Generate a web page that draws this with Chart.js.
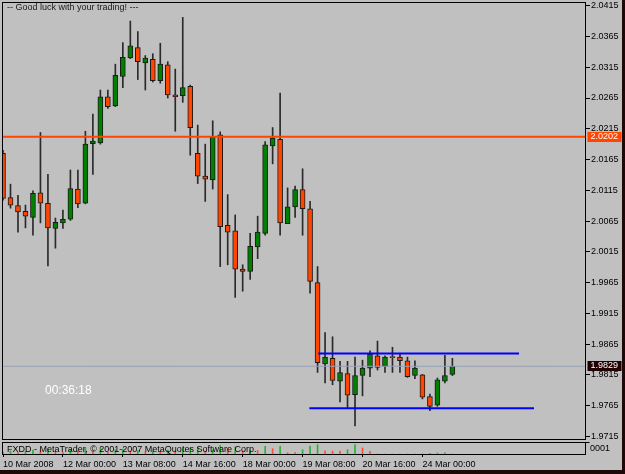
<!DOCTYPE html>
<html>
<head>
<meta charset="utf-8">
<script src="https://cdn.jsdelivr.net/npm/chart.js@4.4.1/dist/chart.umd.min.js"></script>
<style>
  html, body { margin: 0; padding: 0; background: #c0c0c0; }
  canvas { display: block; }
</style>
</head>
<body>
<canvas id="chart" width="625" height="474"></canvas>
<script>
// H4 bars, 10 Mar 2008 16:00 .. 24 Mar 2008
const opens = [2.0175, 2.0103, 2.0090, 2.0081, 2.0071, 2.0111, 2.0094, 2.0053, 2.0062, 2.0068,
  2.0117, 2.0094, 2.0191, 2.0192, 2.0267, 2.0252, 2.0300, 2.0330, 2.0347, 2.0322,
  2.0328, 2.0293, 2.0319, 2.0270, 2.0269, 2.0284, 2.0175, 2.0138, 2.0132, 2.0205,
  2.0058, 2.0049, 1.9987, 1.9983, 2.0023, 2.0045, 2.0187, 2.0198, 2.0061, 2.0088,
  2.0116, 2.0085, 1.9965, 1.9833, 1.9842, 1.9805, 1.9817, 1.9783, 1.9814, 1.9826,
  1.9846, 1.9829, 1.9845, 1.9844, 1.9838, 1.9814, 1.9815, 1.9780, 1.9766, 1.9805,
  1.9816];
const highs = [2.0180, 2.0125, 2.0107, 2.0091, 2.0114, 2.0209, 2.0141, 2.0070, 2.0083, 2.0148,
  2.0148, 2.0211, 2.0239, 2.0278, 2.0278, 2.0320, 2.0355, 2.0390, 2.0373, 2.0334,
  2.0337, 2.0354, 2.0324, 2.0312, 2.0396, 2.0286, 2.0221, 2.0190, 2.0228, 2.0210,
  2.0108, 2.0075, 1.9994, 2.0045, 2.0073, 2.0194, 2.0217, 2.0273, 2.0119, 2.0122,
  2.0150, 2.0097, 1.9991, 1.9884, 1.9877, 1.9837, 1.9837, 1.9844, 1.9839, 1.9854,
  1.9870, 1.9846, 1.9860, 1.9849, 1.9844, 1.9838, 1.9816, 1.9784, 1.9810, 1.9847,
  1.9842];
const lows = [2.0099, 2.0086, 2.0047, 2.0054, 2.0042, 2.0062, 1.9992, 2.0021, 2.0053, 2.0066,
  2.0087, 2.0093, 2.0141, 2.0190, 2.0248, 2.0251, 2.0282, 2.0329, 2.0295, 2.0278,
  2.0291, 2.0289, 2.0265, 2.0211, 2.0258, 2.0172, 2.0126, 2.0097, 2.0117, 1.9991,
  1.9994, 1.9941, 1.9951, 1.9970, 2.0004, 2.0042, 2.0158, 2.0042, 2.0061, 2.0071,
  2.0042, 1.9948, 1.9819, 1.9802, 1.9799, 1.9771, 1.9761, 1.9732, 1.9781, 1.9812,
  1.9823, 1.9819, 1.9819, 1.9819, 1.9811, 1.9809, 1.9776, 1.9757, 1.9764, 1.9802,
  1.9814];
const closes = [2.0102, 2.0091, 2.0080, 2.0073, 2.0110, 2.0094, 2.0054, 2.0063, 2.0068, 2.0118,
  2.0093, 2.0190, 2.0195, 2.0267, 2.0251, 2.0302, 2.0331, 2.0350, 2.0324, 2.0330,
  2.0293, 2.0320, 2.0270, 2.0267, 2.0282, 2.0217, 2.0138, 2.0133, 2.0202, 2.0056,
  2.0047, 1.9987, 1.9983, 2.0024, 2.0047, 2.0189, 2.0200, 2.0062, 2.0088, 2.0116,
  2.0085, 1.9967, 1.9835, 1.9844, 1.9806, 1.9819, 1.9782, 1.9814, 1.9826, 1.9849,
  1.9827, 1.9844, 1.9843, 1.9838, 1.9812, 1.9826, 1.9779, 1.9764, 1.9807, 1.9814,
  1.9829];
const volumes = [200, 300, 150, 250, 400, 350, 500, 200, 150, 450,
  300, 550, 250, 600, 200, 450, 500, 300, 350, 200,
  300, 250, 400, 300, 550, 600, 700, 300, 400, 870,
  600, 700, 300, 400, 350, 770, 530, 770, 130, 130,
  430, 800, 930, 320, 300, 280, 430, 930, 600, 270,
  0, 0, 0, 0, 0, 0, 0, 60, 90, 110,
  0];

const tickBars = [0, 8, 16, 24, 32, 40, 48, 56];
const tickLabels = ['10 Mar 2008', '12 Mar 00:00', '13 Mar 08:00', '14 Mar 16:00',
  '18 Mar 00:00', '19 Mar 08:00', '20 Mar 16:00', '24 Mar 00:00'];
const priceTicks = [2.0415, 2.0365, 2.0315, 2.0265, 2.0215, 2.0165, 2.0115, 2.0065,
  2.0015, 1.9965, 1.9915, 1.9865, 1.9815, 1.9765, 1.9715];

const resistance = 2.0202;   // red horizontal line
const bid = 1.9829;          // last price
const rangeTopX = [42.1, 68.9], rangeTopY = 1.9850;   // blue lines
const rangeLowX = [40.9, 70.9], rangeLowY = 1.9761;

// visible window
const xMin = 0, xMax = 77.84;
const yMin = 1.96865, yMax = 2.04194;

const UP = '#008000', DOWN = '#ff4500';
const FONT = '"Liberation Sans", Arial, sans-serif';

function flat(v) { return [{ x: xMin, y: v }, { x: xMax, y: v }]; }

const mt4Frame = {
    id: 'mt4Frame',
    beforeDraw(chart) {
        const { ctx, width, height } = chart;
        ctx.save();
        ctx.fillStyle = '#c0c0c0';
        ctx.fillRect(0, 0, width, height);
        ctx.fillStyle = '#1e0808';
        ctx.fillRect(width - 3, 0, 3, height);
        ctx.fillRect(0, height - 4, width, 4);
        ctx.restore();
    },
    afterDraw(chart) {
        const { ctx, chartArea: a, scales: { y } } = chart;
        const left = Math.round(a.left) - 0.5, right = Math.round(a.right) - 0.5;
        const top = Math.round(a.top) - 0.5, bottom = Math.round(a.bottom);
        ctx.save();
        ctx.strokeStyle = '#000';
        ctx.lineWidth = 1;
        ctx.strokeRect(left, top, right - left, bottom - 14.5 - top);
        ctx.strokeRect(left, bottom - 11.5, right - left, 12);
        // volume scale tick
        ctx.beginPath();
        ctx.moveTo(right, bottom - 11.5); ctx.lineTo(right + 4, bottom - 11.5);
        ctx.stroke();

        ctx.font = '9px ' + FONT;
        ctx.textBaseline = 'middle';
        ctx.fillStyle = '#000';
        ctx.fillText('0001', right + 4.5, bottom - 5);
        ctx.fillText('FXDD - MetaTrader, \u00a9 2001-2007 MetaQuotes Software Corp.', 7, bottom - 4.5);
        ctx.fillStyle = '#1a1a1a';
        ctx.fillText('-- Good luck with your trading! ---', 7, 8);

        ctx.font = '12px ' + FONT;
        ctx.fillStyle = '#ffffff';
        ctx.fillText('00:36:18', 45, 391);

        // price tags
        ctx.font = '9px ' + FONT;
        [[resistance, '#ff4500'], [bid, '#200000']].forEach(([v, bg]) => {
            const py = Math.round(y.getPixelForValue(v));
            ctx.fillStyle = bg;
            ctx.fillRect(right + 2, py - 5, 34, 10);
            ctx.fillStyle = '#ffffff';
            ctx.fillText(v.toFixed(4), right + 5, py);
        });
        ctx.restore();
    }
};

const lineBase = { type: 'line', pointRadius: 0, fill: false, order: 0 };
const barBase = { grouped: false, borderSkipped: false };

new Chart(document.getElementById('chart'), {
    type: 'bar',
    data: {
        datasets: [
            { ...lineBase, data: flat(resistance), borderColor: '#ff4500', borderWidth: 2 },
            { ...lineBase, data: flat(bid), borderColor: '#98a0b4', borderWidth: 1 },
            { ...lineBase, data: rangeTopX.map(x => ({ x, y: rangeTopY })), borderColor: '#0000ff', borderWidth: 2 },
            { ...lineBase, data: rangeLowX.map(x => ({ x, y: rangeLowY })), borderColor: '#0000ff', borderWidth: 2 },
            {
                ...barBase, order: 1,
                data: opens.map((o, i) => ({ x: i, y: [o, closes[i]] })),
                backgroundColor: opens.map((o, i) => closes[i] >= o ? UP : DOWN),
                borderColor: '#1a1a1a', borderWidth: 1, barThickness: 5
            },
            {
                ...barBase, order: 2,
                data: lows.map((l, i) => ({ x: i, y: [l, highs[i]] })),
                backgroundColor: '#2a2a2a', barThickness: 1
            },
            {
                ...barBase, order: 3, yAxisID: 'yv',
                data: volumes.map((v, i) => ({ x: i, y: v })),
                backgroundColor: volumes.map((v, i) => i > 0 && v > volumes[i - 1] ? '#30b030' : '#ff5030'),
                barThickness: 1
            }
        ]
    },
    options: {
        responsive: false,
        animation: false,
        layout: { padding: { left: 3, top: 3, right: 0, bottom: 0 } },
        plugins: { legend: { display: false }, tooltip: { enabled: false } },
        scales: {
            x: {
                type: 'linear', min: xMin, max: xMax, offset: false,
                grid: { offset: false, drawOnChartArea: false, drawTicks: true, tickLength: 3, color: '#000' },
                border: { display: false },
                afterBuildTicks: s => { s.ticks = tickBars.map(v => ({ value: v })); },
                afterFit: s => { s.height = 20; s.paddingLeft = 0; s.paddingRight = 0; },
                ticks: {
                    align: 'start', autoSkip: false, maxRotation: 0, minRotation: 0, padding: 2,
                    color: '#000', font: { family: FONT, size: 9 },
                    callback: v => tickLabels[tickBars.indexOf(v)] ?? ''
                }
            },
            y: {
                position: 'right', min: yMin, max: yMax,
                grid: { drawOnChartArea: false, drawTicks: true, tickLength: 4, color: '#000' },
                border: { display: false },
                afterBuildTicks: s => { s.ticks = priceTicks.map(v => ({ value: v })); },
                afterFit: s => { s.width = 39; s.paddingTop = 0; s.paddingBottom = 0; },
                ticks: {
                    padding: 1, color: '#000', font: { family: FONT, size: 9 },
                    callback: v => Number(v).toFixed(4)
                }
            },
            yv: {
                display: false, min: 0, max: Math.max(...volumes) * 48.5
            }
        }
    },
    plugins: [mt4Frame]
});
</script>
</body>
</html>
